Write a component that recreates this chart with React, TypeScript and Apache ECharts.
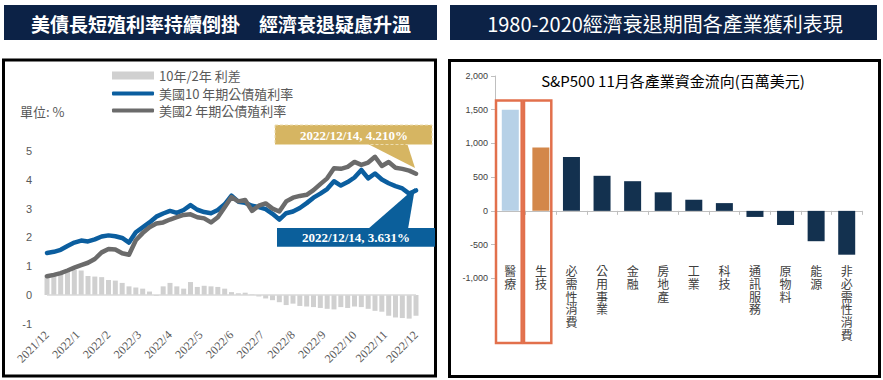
import React, { useEffect, useRef } from "react";
import * as echarts from "echarts";

// ---------- Left chart data (weekly, 2021/12/01 → 2022/12/14) ----------
const monthLabels = [
  "2021/12", "2022/1", "2022/2", "2022/3", "2022/4", "2022/5", "2022/6",
  "2022/7", "2022/8", "2022/9", "2022/10", "2022/11", "2022/12",
];
const us10y = [
  1.46, 1.50, 1.57, 1.70, 1.82, 1.89, 1.86, 1.93, 2.03, 2.07, 2.04, 1.98, 1.82,
  2.18, 2.35, 2.52, 2.72, 2.83, 2.92, 2.85, 2.95, 3.12, 2.96, 2.88, 2.84, 2.95,
  3.15, 3.45, 3.24, 3.20, 3.10, 3.05, 2.98, 2.82, 2.62, 2.84, 2.90, 3.02, 3.19,
  3.38, 3.52, 3.68, 3.95, 3.80, 3.92, 4.08, 4.34, 4.05, 4.22, 4.01, 3.88, 3.78,
  3.70, 3.52, 3.631,
];
const us2y = [
  0.65, 0.70, 0.76, 0.85, 0.95, 1.04, 1.12, 1.25, 1.48, 1.60, 1.58, 1.45, 1.40,
  1.90, 2.15, 2.35, 2.48, 2.52, 2.62, 2.70, 2.78, 2.80, 2.70, 2.66, 2.52, 2.70,
  3.05, 3.40, 3.25, 3.30, 2.92, 3.10, 3.18, 3.00, 2.90, 3.25, 3.38, 3.44, 3.48,
  3.64, 3.85, 4.05, 4.40, 4.38, 4.45, 4.62, 4.52, 4.60, 4.80, 4.48, 4.62, 4.42,
  4.38, 4.32, 4.21,
];
const spread = [
  0.70, 0.72, 0.78, 0.85, 0.87, 0.85, 0.66, 0.64, 0.62, 0.52, 0.50, 0.42, 0.30,
  0.26, 0.22, 0.12, -0.03, 0.30, 0.42, 0.30, 0.22, 0.45, 0.28, 0.32, 0.30, 0.28,
  0.22, 0.10, 0.06, 0.08, 0.02, -0.05, -0.12, -0.18, -0.25, -0.35, -0.30, -0.38,
  -0.40, -0.42, -0.45, -0.48, -0.50, -0.42, -0.45, -0.40, -0.42, -0.48, -0.55,
  -0.58, -0.72, -0.78, -0.80, -0.82, -0.72,
];
const seriesNames = ["10年/2年 利差", "美國10 年期公債殖利率", "美國2 年期公債殖利率"];
const leftYTicks = [-1, 0, 1, 2, 3, 4, 5];

// ---------- Right chart data ----------
const sectors = [
  "醫療", "生技", "必需性消費", "公用事業", "金融", "房地產",
  "工業", "科技", "通訊服務", "原物料", "能源", "非必需性消費",
];
const flows = [1500, 940, 800, 520, 440, 275, 165, 115, -90, -210, -450, -650];

const CJK = "'Noto Sans CJK TC', 'Noto Sans', sans-serif";
const SERIF = "'Liberation Serif', 'DejaVu Serif', serif";
const NAVY = "#0c2246";
const GOLD = "#d6b562";
const BLUE_CALLOUT = "#0b5f9b";

function buildOption(): any {
  const weeksPerLabel = (us10y.length - 1) / (monthLabels.length - 1); // 4.5
  const maxX = us10y.length - 1;

  const barColor = (i: number) =>
    i === 0 ? "#b7d1e7" : i === 1 ? "#d3874a" : "#13314f";

  return {
    animation: false,
    backgroundColor: "#ffffff",
    legend: [
      {
        data: [{ name: seriesNames[0], icon: "rect" }],
        left: 107,
        top: 64,
        itemWidth: 42,
        itemHeight: 8,
        selectedMode: false,
        textStyle: { fontSize: 13, color: "#595959", fontFamily: CJK },
      },
      {
        data: [
          { name: seriesNames[1], icon: "roundRect" },
          { name: seriesNames[2], icon: "roundRect" },
        ],
        orient: "vertical",
        left: 107,
        top: 82,
        itemWidth: 42,
        itemHeight: 4,
        itemGap: 4,
        selectedMode: false,
        textStyle: { fontSize: 13, color: "#595959", fontFamily: CJK },
      },
    ],
    grid: [
      { left: 47, right: 883 - 416, top: 151, bottom: 380 - 323.8, outerBoundsMode: "none", containLabel: false },
      { left: 495, right: 21, top: 76, bottom: 380 - 278.3, outerBoundsMode: "none", containLabel: false },
    ],
    xAxis: [
      {
        type: "value",
        gridIndex: 0,
        min: 0,
        max: maxX,
        interval: weeksPerLabel,
        axisLine: { show: false },
        axisTick: { show: false },
        splitLine: { show: false },
        axisLabel: {
          rotate: 45,
          margin: 9,
          fontSize: 12,
          color: "#595959",
          fontFamily: SERIF,
          formatter: (v: number) => monthLabels[Math.round(v / weeksPerLabel)] ?? "",
        },
      },
      {
        type: "category",
        gridIndex: 1,
        data: sectors,
        axisLine: { show: true, lineStyle: { color: "#bfbfbf", width: 1 } },
        axisTick: { show: true, length: 4, lineStyle: { color: "#bfbfbf" } },
        axisLabel: {
          interval: 0,
          margin: -14,
          fontSize: 12,
          lineHeight: 12.7,
          color: "#404040",
          fontFamily: CJK,
          verticalAlign: "top",
          formatter: (s: string) => s.split("").join("\n"),
        },
      },
    ],
    yAxis: [
      {
        type: "value",
        gridIndex: 0,
        min: leftYTicks[0],
        max: leftYTicks[leftYTicks.length - 1],
        interval: 1,
        axisLine: { show: false },
        axisTick: { show: false },
        splitLine: { show: false },
        axisLabel: { margin: 15, fontSize: 11, color: "#595959", fontFamily: "'Liberation Sans', sans-serif" },
      },
      {
        type: "value",
        gridIndex: 1,
        min: -1000,
        max: 2000,
        interval: 500,
        axisLine: { show: true, lineStyle: { color: "#bfbfbf", width: 1 } },
        axisTick: { show: true, length: 4, lineStyle: { color: "#bfbfbf" } },
        splitLine: { show: false },
        axisLabel: {
          margin: 7,
          fontSize: 9,
          color: "#404040",
          fontFamily: "'Liberation Sans', sans-serif",
          formatter: (v: number) => v.toLocaleString("en-US"),
        },
      },
    ],
    series: [
      {
        name: seriesNames[0],
        type: "bar",
        xAxisIndex: 0,
        yAxisIndex: 0,
        barWidth: 5,
        itemStyle: { color: "#d0d0d0" },
        data: spread.map((v, i) => [i, v]),
        markLine: {
          silent: true,
          symbol: ["none", "none"],
          label: { show: false },
          lineStyle: { color: "#d9d9d9", width: 1.5, type: "solid" },
          data: [{ yAxis: 0 }],
        },
      },
      {
        name: seriesNames[1],
        type: "line",
        xAxisIndex: 0,
        yAxisIndex: 0,
        symbol: "none",
        showSymbol: false,
        lineStyle: { color: "#0b5e9f", width: 4.5, cap: "round", join: "round" },
        itemStyle: { color: "#0b5e9f" },
        data: us10y.map((v, i) => [i, v]),
      },
      {
        name: seriesNames[2],
        type: "line",
        xAxisIndex: 0,
        yAxisIndex: 0,
        symbol: "none",
        showSymbol: false,
        lineStyle: { color: "#6b6b6b", width: 4.5, cap: "round", join: "round" },
        itemStyle: { color: "#6b6b6b" },
        data: us2y.map((v, i) => [i, v]),
      },
      {
        name: "S&P500",
        type: "bar",
        xAxisIndex: 1,
        yAxisIndex: 1,
        barWidth: 17,
        data: flows.map((v, i) => ({ value: v, itemStyle: { color: barColor(i) } })),
      },
    ],
    graphic: [
      // headers
      { type: "rect", shape: { x: 4, y: 5, width: 433, height: 35 }, style: { fill: NAVY }, z: 100 },
      {
        type: "text", x: 221, y: 23, z: 101,
        style: {
          text: "美債長短殖利率持續倒掛　經濟衰退疑慮升溫",
          fill: "#ffffff", font: `bold 19px ${CJK}`,
          align: "center", verticalAlign: "middle",
          textAlign: "center", textVerticalAlign: "middle",
        },
      },
      { type: "rect", shape: { x: 450, y: 5, width: 427, height: 35 }, style: { fill: NAVY }, z: 100 },
      {
        type: "text", x: 665, y: 23, z: 101,
        style: {
          text: "1980-2020經濟衰退期間各產業獲利表現",
          fill: "#ffffff", font: `20px ${CJK}`,
          align: "center", verticalAlign: "middle",
          textAlign: "center", textVerticalAlign: "middle",
        },
      },
      // panel borders
      { type: "rect", shape: { x: 3.5, y: 60, width: 432, height: 316 }, style: { fill: "none", stroke: "#000", lineWidth: 3 }, z: 100 },
      { type: "rect", shape: { x: 449.5, y: 60.5, width: 430, height: 316 }, style: { fill: "none", stroke: "#000", lineWidth: 3 }, z: 100 },
      // unit label
      {
        type: "text", x: 20, y: 111, z: 101,
        style: {
          text: "單位: %", fill: "#595959", font: `13px ${CJK}`,
          align: "left", verticalAlign: "middle",
          textAlign: "left", textVerticalAlign: "middle",
        },
      },
      // gold callout (2Y)
      { type: "polygon", shape: { points: [[366, 143], [407, 143], [415, 168]] }, style: { fill: GOLD }, z: 100 },
      {
        type: "rect", shape: { x: 275, y: 125, width: 157, height: 19.5 },
        style: { fill: GOLD, stroke: "#ecdcae", lineWidth: 1, lineDash: [3, 2] }, z: 100,
      },
      {
        type: "text", x: 354, y: 135, z: 101,
        style: {
          text: "2022/12/14, 4.210%", fill: "#ffffff", font: `bold 13px ${SERIF}`,
          align: "center", verticalAlign: "middle",
          textAlign: "center", textVerticalAlign: "middle",
        },
      },
      // blue callout (10Y)
      { type: "polygon", shape: { points: [[368, 229], [408, 229], [415, 188]] }, style: { fill: BLUE_CALLOUT }, z: 100 },
      { type: "rect", shape: { x: 277, y: 228, width: 158, height: 18.7 }, style: { fill: BLUE_CALLOUT }, z: 100 },
      {
        type: "text", x: 356, y: 237.5, z: 101,
        style: {
          text: "2022/12/14, 3.631%", fill: "#ffffff", font: `bold 13px ${SERIF}`,
          align: "center", verticalAlign: "middle",
          textAlign: "center", textVerticalAlign: "middle",
        },
      },
      // right chart title
      {
        type: "text", x: 673, y: 80, z: 101,
        style: {
          text: "S&P500 11月各產業資金流向(百萬美元)", fill: "#000000", font: `15px ${CJK}`,
          align: "center", verticalAlign: "middle",
          textAlign: "center", textVerticalAlign: "middle",
        },
      },
      // highlight boxes
      { type: "rect", shape: { x: 496, y: 100.5, width: 25.7, height: 242.5 }, style: { fill: "none", stroke: "#e2704c", lineWidth: 2.5 }, z: 100 },
      { type: "rect", shape: { x: 524, y: 100.5, width: 27.3, height: 242.5 }, style: { fill: "none", stroke: "#e2704c", lineWidth: 2.5 }, z: 100 },
    ],
  };
}

export default function App() {
  const ref = useRef<HTMLDivElement>(null);
  useEffect(() => {
    if (!ref.current) return;
    const chart = echarts.init(ref.current, null, { renderer: "svg" });
    chart.setOption(buildOption());
    return () => chart.dispose();
  }, []);
  return (
    <div
      ref={ref}
      style={{ position: "absolute", left: 0, top: 0, width: 883, height: 380, background: "#fff" }}
    />
  );
}
